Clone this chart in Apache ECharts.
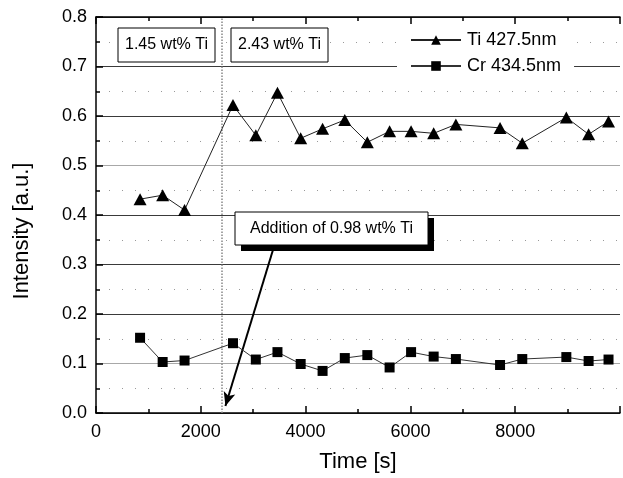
<!DOCTYPE html>
<html><head><meta charset="utf-8">
<script src="https://cdn.jsdelivr.net/npm/echarts@6/dist/echarts.min.js"></script>
<style>html,body{margin:0;padding:0;background:#fff;overflow:hidden}#c{position:absolute;left:0;top:0;width:623px;height:478px}</style>
</head><body><div id="c"></div>
<script>
const FONT = "'Liberation Sans', Arial, sans-serif";
const timeS = [841, 1272, 1690, 2614, 3050, 3463, 3906, 4324, 4748, 5178, 5603, 6013, 6444, 6868, 7711, 8135, 8976, 9401, 9781];
const tiValues = [0.432, 0.440, 0.410, 0.622, 0.561, 0.647, 0.555, 0.574, 0.592, 0.547, 0.569, 0.569, 0.565, 0.583, 0.576, 0.545, 0.597, 0.563, 0.589];
const crValues = [0.152, 0.103, 0.106, 0.141, 0.108, 0.123, 0.099, 0.085, 0.111, 0.117, 0.092, 0.123, 0.114, 0.109, 0.097, 0.109, 0.113, 0.105, 0.108];
const seriesNames = ['Ti 427.5nm', 'Cr 434.5nm'];
const additionTime = 2400;
const arrowFrom = [3390, 0.334];
const arrowTo = [2470, 0.014];
const boxTexts = ['1.45 wt% Ti', '2.43 wt% Ti', 'Addition of 0.98 wt% Ti'];

const chart = echarts.init(document.getElementById('c'), null, {width: 623, height: 478});
const pair = (xs, ys) => xs.map((x, i) => [x, ys[i]]);

function box(x, y, w, h, text, shadow) {
  const els = [];
  if (shadow) els.push({type: 'rect', shape: {x: x + 6, y: y + 6, width: w, height: h}, style: {fill: '#000'}, z: 100});
  els.push({type: 'rect', shape: {x: x, y: y, width: w, height: h}, style: {fill: '#fff', stroke: '#000', lineWidth: 1}, z: 101});
  els.push({type: 'text', x: x + w / 2, y: y + h / 2, style: {text: text, fontSize: 16, fontFamily: FONT, fill: '#000', align: 'center', verticalAlign: 'middle'}, z: 102});
  return els;
}

chart.setOption({
  animation: false,
  backgroundColor: '#fff',
  grid: {left: 96, right: 0, top: 17, bottom: 61, containLabel: false},
  legend: {
    orient: 'vertical', left: 397, top: 28,
    itemWidth: 50, itemHeight: 12, itemGap: 8,
    padding: [3, 13, 3, 13],
    backgroundColor: '#fff',
    textStyle: {fontSize: 18, fontFamily: FONT, color: '#000', padding: [0, 0, 0, 1]},
    data: seriesNames
  },
  xAxis: [{
    type: 'value', min: 0, max: 10000, interval: 2000,
    name: 'Time [s]', nameLocation: 'middle', nameGap: 38,
    nameTextStyle: {fontSize: 22, fontFamily: FONT, color: '#000'},
    axisLine: {show: true, onZero: false, lineStyle: {color: '#000', width: 1.5}},
    axisTick: {show: true, inside: true, length: 7, lineStyle: {color: '#000', width: 1.5}},
    minorTick: {show: true, splitNumber: 2, length: 4, lineStyle: {color: '#000', width: 1.5}},
    axisLabel: {fontSize: 18, fontFamily: FONT, color: '#000', margin: 10,
      formatter: v => (v >= 10000 ? '' : String(v))},
    splitLine: {show: false}
  }, {
    type: 'value', min: 0, max: 10000, interval: 2000, position: 'top',
    axisLine: {show: true, onZero: false, lineStyle: {color: '#000', width: 1.5}},
    axisTick: {show: true, inside: true, length: 7, lineStyle: {color: '#000', width: 1.5}},
    minorTick: {show: true, splitNumber: 2, length: 4, lineStyle: {color: '#000', width: 1.5}},
    axisLabel: {show: false},
    splitLine: {show: false}
  }],
  yAxis: {
    type: 'value', min: 0, max: 0.8, interval: 0.1,
    axisLine: {show: true, onZero: false, lineStyle: {color: '#000', width: 1.5}},
    axisTick: {show: true, inside: true, length: 7, lineStyle: {color: '#000', width: 1.5}},
    minorTick: {show: true, splitNumber: 2, length: 4, lineStyle: {color: '#000', width: 1.5}},
    axisLabel: {fontSize: 18, fontFamily: FONT, color: '#000', margin: 9, formatter: v => v.toFixed(1)},
    splitLine: {show: true, lineStyle: {
      color: ['#3a3a3a', '#a8a8a8', '#3a3a3a', '#3a3a3a', '#3a3a3a', '#a8a8a8', '#3a3a3a', '#3a3a3a', '#3a3a3a'],
      width: 1.2}},
    minorSplitLine: {show: true, lineStyle: {color: '#999', width: 1, type: [1, 12]}}
  },
  series: [{
    name: seriesNames[0], type: 'line', data: pair(timeS, tiValues),
    symbol: 'triangle', symbolSize: [13, 12],
    itemStyle: {color: '#000'},
    lineStyle: {color: '#222', width: 1},
    z: 5,
    markLine: {
      silent: true, symbol: 'none', label: {show: false},
      lineStyle: {type: 'dotted', color: '#888', width: 1.5},
      data: [{xAxis: additionTime}]
    }
  }, {
    name: seriesNames[1], type: 'line', data: pair(timeS, crValues),
    symbol: 'rect', symbolSize: 10,
    itemStyle: {color: '#000'},
    lineStyle: {color: '#333', width: 1},
    z: 5,
    markLine: {
      silent: true, symbol: ['none', 'arrow'], symbolSize: [9, 14], label: {show: false},
      lineStyle: {type: 'solid', color: '#000', width: 2},
      data: [[{coord: arrowFrom}, {coord: arrowTo}]]
    }
  }],
  graphic: [
    ...box(118, 28, 97, 34, boxTexts[0], false),
    ...box(231, 28, 97, 34, boxTexts[1], false),
    ...box(235, 212, 193, 33, boxTexts[2], true),
    {type: 'text', x: 22, y: 231, rotation: Math.PI / 2,
      style: {text: 'Intensity [a.u.]', fontSize: 22, fontFamily: FONT, fill: '#000', align: 'center', verticalAlign: 'middle'}}
  ]
});
</script>
</body></html>
